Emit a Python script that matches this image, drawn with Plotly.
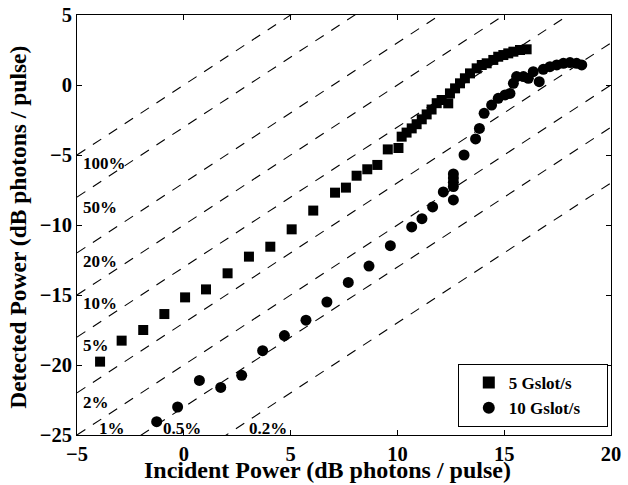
import numpy as np
import plotly.graph_objects as go

# 5 Gslot/s (squares)
sq_x = [-3.92, -2.91, -1.9, -0.91, 0.06, 1.04, 2.05, 3.05, 4.05, 5.05, 6.06,
        7.08, 7.59, 8.09, 8.59, 9.06, 9.55, 10.05, 10.2, 10.43, 10.67, 10.9,
        11.14, 11.37, 11.6, 11.84, 12.07, 12.38, 12.46, 12.7, 12.93, 13.16,
        13.4, 13.71, 13.95, 14.18, 14.49, 14.72, 14.96, 15.19, 15.43, 15.74, 16.05]
sq_y = [-19.76, -18.26, -17.5, -16.36, -15.17, -14.6, -13.45, -12.26, -11.55, -10.31, -8.97,
        -7.69, -7.33, -6.48, -6.02, -5.71, -4.6, -4.5, -3.69, -3.4, -3.1, -2.8,
        -2.45, -2.1, -1.75, -1.3, -1.07, -1.31, -0.6, -0.24, 0.12, 0.48,
        0.83, 1.19, 1.43, 1.55, 1.79, 2.02, 2.14, 2.26, 2.38, 2.5, 2.55]

# 10 Gslot/s (circles)
ci_x = [-1.27, -0.29, 0.73, 1.73, 2.71, 3.69, 4.71, 5.72, 6.7, 7.7, 8.67, 9.67,
        10.67, 11.15, 11.65, 12.15, 12.62, 12.62, 12.62, 12.62, 12.62, 13.12,
        13.66, 13.84, 14.06, 14.41, 14.72, 15.04, 15.27, 15.43, 15.58, 15.9,
        16.13, 16.36, 16.64, 16.83, 17.14, 17.46, 17.77, 18.08, 18.39, 18.63]
ci_y = [-24.05, -23.0, -21.1, -21.6, -20.74, -18.98, -17.9, -16.8, -15.5, -14.1, -12.93, -11.48,
        -10.14, -9.55, -8.71, -7.64, -8.21, -7.25, -6.95, -6.65, -6.35, -5.0,
        -3.85, -3.1, -2.02, -1.43, -0.95, -0.71, -0.6, 0.12, 0.6, 0.6,
        0.48, 0.95, 0.24, 1.12, 1.31, 1.43, 1.55, 1.6, 1.55, 1.43]

# efficiency reference lines (percent) and label positions
eff_pct = [100, 50, 20, 10, 5, 2, 1, 0.5, 0.2]
eff_labels = ["100%", "50%", "20%", "10%", "5%", "2%", "1%", "0.5%", "0.2%"]
lab_x = [-4.8, -4.8, -4.8, -4.8, -4.8, -4.8, -3.38, -0.1, 3.92]
lab_y = [-5.6, -8.74, -12.6, -15.64, -18.64, -22.7, -24.55, -24.55, -24.55]

x_ticks = [-5, 0, 5, 10, 15, 20]
y_ticks = [-25, -20, -15, -10, -5, 0, 5]

x_title = "Incident Power (dB photons / pulse)"
y_title = "Detected Power (dB photons / pulse)"

FONT = "Liberation Serif"
fig = go.Figure()

line_x = np.array([-5.0, 20.0])
for e in eff_pct:
    fig.add_trace(go.Scatter(
        x=line_x, y=line_x + 10 * np.log10(e / 100.0), mode="lines",
        line=dict(color="black", width=1.1, dash="10px,9px"),
        showlegend=False, hoverinfo="skip"))

pad = "&nbsp;" * 5
fig.add_trace(go.Scatter(x=sq_x, y=sq_y, mode="markers", name="<b>5 Gslot/s</b>" + pad,
                         marker=dict(symbol="square", size=10, color="black")))
fig.add_trace(go.Scatter(x=ci_x, y=ci_y, mode="markers", name="<b>10 Gslot/s</b>" + pad,
                         marker=dict(symbol="circle", size=11, color="black")))

for t, lx, ly in zip(eff_labels, lab_x, lab_y):
    anchor = "left" if lx < -4 else "center"
    fig.add_annotation(x=lx, y=ly, text="<b>%s</b>" % t, showarrow=False,
                       xanchor=anchor, yanchor="middle",
                       font=dict(family=FONT, size=17, color="black"))

# axis titles as paper-positioned text
fig.add_annotation(x=0.47, y=-0.119, xref="paper", yref="paper",
                   text="<b>%s</b>" % x_title, showarrow=False,
                   xanchor="center", yanchor="bottom",
                   font=dict(family=FONT, size=24, color="black"))
fig.add_annotation(x=-0.111, y=0.495, xref="paper", yref="paper",
                   text="<b>%s</b>" % y_title, showarrow=False, textangle=-90,
                   xanchor="center", yanchor="middle",
                   font=dict(family=FONT, size=23.5, color="black"))

axis_common = dict(showline=True, linecolor="black", linewidth=1, mirror="ticks",
                   ticks="inside", ticklen=5, tickcolor="black", showgrid=False,
                   zeroline=False, tickfont=dict(family=FONT, size=20.5, color="black"))

fig.update_xaxes(range=[-5, 20], tickvals=x_ticks,
                 ticktext=["<b>%s</b>" % ("\u2212" + str(-v) if v < 0 else str(v)) for v in x_ticks],
                 ticklabelstandoff=0, **axis_common)
fig.update_yaxes(range=[-25, 5], tickvals=y_ticks,
                 ticktext=["<b>%s</b>" % ("\u2212" + str(-v) if v < 0 else str(v)) for v in y_ticks],
                 **axis_common)

fig.update_layout(
    width=628, height=485,
    margin=dict(l=77, r=17, t=15, b=50, autoexpand=False),
    plot_bgcolor="white", paper_bgcolor="white",
    legend=dict(x=0.994, y=0.019, xanchor="right", yanchor="bottom",
                bordercolor="black", borderwidth=1, bgcolor="white",
                font=dict(family=FONT, size=17, color="black"),
                indentation=10, itemsizing="constant", tracegroupgap=0),
)

fig.write_html("out.html", config={"displayModeBar": False},
               post_script="document.body.style.margin='0';document.body.style.padding='0';")
